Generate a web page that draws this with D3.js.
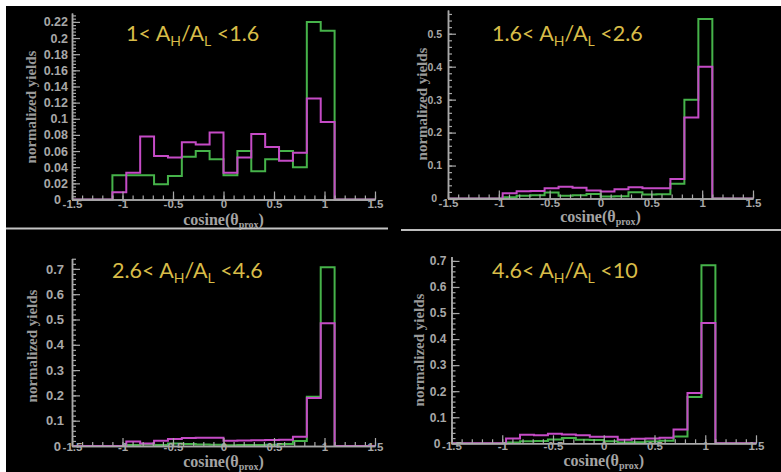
<!DOCTYPE html>
<html>
<head>
<meta charset="utf-8">
<script src="https://cdn.jsdelivr.net/npm/d3@7"></script>
<style>
  html, body { margin: 0; padding: 0; background: #ffffff; }
  svg { display: block; }
</style>
</head>
<body>
<svg id="chart" width="781" height="472"></svg>
<script>
// ---------------- DATA ----------------
const binEdges = [-1.1, -0.9625, -0.825, -0.6875, -0.55, -0.4125, -0.275, -0.1375, 0,
                  0.1375, 0.275, 0.4125, 0.55, 0.6875, 0.825, 0.9625, 1.1];

const titles = [
  ["1< A", "H", "/A", "L", " <1.6"],
  ["1.6< A", "H", "/A", "L", " <2.6"],
  ["2.6< A", "H", "/A", "L", " <4.6"],
  ["4.6< A", "H", "/A", "L", " <10"]
];

const green1   = [0.03, 0.03, 0.03, 0.019, 0.029, 0.053, 0.06, 0.05, 0.03, 0.06, 0.035, 0.05, 0.06, 0.04, 0.22, 0.209];
const magenta1 = [0.009, 0.033, 0.078, 0.054, 0.052, 0.071, 0.068, 0.083, 0.033, 0.052, 0.081, 0.065, 0.048, 0.058, 0.125, 0.096];

const green2   = [0, 0.004, 0.008, 0.010, 0.018, 0.008, 0.010, 0.014, 0.006, 0.007, 0.019, 0.012, 0.013, 0.045, 0.30, 0.545];
const magenta2 = [0, 0.016, 0.022, 0.023, 0.031, 0.036, 0.033, 0.024, 0.021, 0.028, 0.034, 0.031, 0.031, 0.059, 0.246, 0.40];

const green3   = [0, 0.004, 0.006, 0.004, 0.010, 0.008, 0.006, 0.005, 0.003, 0.004, 0.004, 0.005, 0.008, 0.02, 0.195, 0.706];
const magenta3 = [0, 0.018, 0.010, 0.021, 0.028, 0.032, 0.033, 0.033, 0.021, 0.022, 0.023, 0.024, 0.025, 0.037, 0.19, 0.485];

const green4   = [0, 0.003, 0.008, 0.009, 0.015, 0.020, 0.014, 0.013, 0.008, 0.003, 0.004, 0.007, 0.010, 0.026, 0.178, 0.683];
const magenta4 = [0, 0.018, 0.033, 0.031, 0.037, 0.034, 0.031, 0.025, 0.025, 0.014, 0.017, 0.018, 0.021, 0.053, 0.193, 0.462];

const xTickValues = [-1.5, -1, -0.5, 0, 0.5, 1, 1.5];
const yTickSteps = [0.02, 0.1, 0.1, 0.1];

// ---------------- LAYOUT ----------------
const panels = [
  { green: green1, magenta: magenta1, title: titles[0], x0: 72,  x1: 375, yZero: 199.5, yTop: 13,    yMax: 0.231,
    titleX: 126, titleY: 41,  ylabX: 33,  ylabY: 107, xlabY: 225, xPad: 0,  yPad: 4, yFont: 12.5, zeroDx: -7 },
  { green: green2, magenta: magenta2, title: titles[1], x0: 448, x1: 753, yZero: 198.5, yTop: 10,    yMax: 0.572,
    titleX: 492, titleY: 41,  ylabX: 424, ylabY: 104, xlabY: 222, xPad: 0,  yPad: 6, yFont: 10.5, zeroDx: -5 },
  { green: green3, magenta: magenta3, title: titles[2], x0: 72,  x1: 375, yZero: 446,   yTop: 258.5, yMax: 0.741,
    titleX: 112, titleY: 278, ylabX: 34,  ylabY: 346, xlabY: 467, xPad: -3, yPad: 8, yFont: 13,   zeroDx: -3 },
  { green: green4, magenta: magenta4, title: titles[3], x0: 451.5, x1: 756, yZero: 443.3, yTop: 256.5, yMax: 0.717,
    titleX: 492, titleY: 278, ylabX: 421, ylabY: 350, xlabY: 466, xPad: -1, yPad: 5, yFont: 12,   zeroDx: -6 }
];

const GREEN = "#46b34a";
const MAGENTA = "#c54bc6";
const AXIS = "#a9a9a9";
const LABEL = "#a8a8a8";
const GOLD = "#d8bc48";

const svg = d3.select("#chart");

// background: white margin on top/left, black elsewhere
svg.append("rect").attr("x", 0).attr("y", 0).attr("width", 781).attr("height", 472).attr("fill", "#ffffff");
svg.append("rect").attr("x", 6).attr("y", 6).attr("width", 775).attr("height", 466).attr("fill", "#000000");

// separator lines
svg.append("line").attr("x1", 6).attr("x2", 388).attr("y1", 228.5).attr("y2", 228.5)
  .attr("stroke", "#c4c4c4").attr("stroke-width", 2);
svg.append("line").attr("x1", 401).attr("x2", 781).attr("y1", 230).attr("y2", 230)
  .attr("stroke", "#bdbdbd").attr("stroke-width", 2);

const yFmt = d => d === 0 ? "0" : String(+d.toFixed(2));
const xFmt = d => String(d);

panels.forEach((p, idx) => {
  const x = d3.scaleLinear().domain([-1.5, 1.5]).range([p.x0, p.x1]);
  const y = d3.scaleLinear().domain([0, p.yMax]).range([p.yZero, p.yTop]);
  const g = svg.append("g");

  // ---- histograms ----
  const stepLine = d3.line().x(d => x(d[0])).y(d => y(d[1])).curve(d3.curveStepAfter);
  const toPoints = vals => {
    const pts = [[-1.5, 0]];
    vals.forEach((v, i) => pts.push([binEdges[i], v]));
    pts.push([binEdges[binEdges.length - 1], 0]);
    pts.push([1.5, 0]);
    return pts;
  };
  g.append("path").attr("d", stepLine(toPoints(p.green)))
    .attr("fill", "none").attr("stroke", GREEN).attr("stroke-width", 2);
  g.append("path").attr("d", stepLine(toPoints(p.magenta)))
    .attr("fill", "none").attr("stroke", MAGENTA).attr("stroke-width", 2);

  // ---- x axis ----
  const xMinor = d3.range(-15, 16).map(v => v / 10);
  const xMinorAxis = d3.axisBottom(x).tickValues(xMinor).tickSize(-4).tickSizeOuter(0).tickFormat("");
  const xMajorAxis = d3.axisBottom(x).tickValues(xTickValues).tickSize(-8).tickSizeOuter(0).tickPadding(p.xPad).tickFormat(xFmt);
  const gx1 = g.append("g").attr("transform", `translate(0,${p.yZero})`).call(xMinorAxis);
  const gx2 = g.append("g").attr("transform", `translate(0,${p.yZero})`).call(xMajorAxis);
  [gx1, gx2].forEach(a => {
    a.selectAll("path").attr("stroke", AXIS).attr("stroke-width", 1.5);
    a.selectAll("line").attr("stroke", AXIS).attr("stroke-width", 1.2);
  });
  gx2.selectAll("text").attr("fill", LABEL)
    .style("font-family", "'Liberation Sans', Arial, sans-serif")
    .style("font-weight", "bold").style("font-size", "11.5px");

  // ---- y axis ----
  const step = yTickSteps[idx];
  const yMajor = d3.range(0, p.yMax + 1e-9, step).map(v => +v.toFixed(4));
  const yMinor = d3.range(0, p.yMax + 1e-9, step / 5).map(v => +v.toFixed(5));
  const yMinorAxis = d3.axisLeft(y).tickValues(yMinor).tickSize(-4).tickSizeOuter(0).tickFormat("");
  const yMajorAxis = d3.axisLeft(y).tickValues(yMajor).tickSize(-8).tickSizeOuter(0).tickPadding(p.yPad).tickFormat(yFmt);
  const gy1 = g.append("g").attr("transform", `translate(${p.x0},0)`).call(yMinorAxis);
  const gy2 = g.append("g").attr("transform", `translate(${p.x0},0)`).call(yMajorAxis);
  [gy1, gy2].forEach(a => {
    a.selectAll("path").attr("stroke", AXIS).attr("stroke-width", 1.5);
    a.selectAll("line").attr("stroke", AXIS).attr("stroke-width", 1.2);
  });
  gy2.selectAll("text").attr("fill", LABEL)
    .style("font-family", "'Liberation Sans', Arial, sans-serif")
    .style("font-weight", "bold").style("font-size", p.yFont + "px")
    .attr("dx", d => d === 0 ? p.zeroDx : 0);

  // ---- axis titles ----
  g.append("text")
    .attr("transform", `translate(${p.ylabX},${p.ylabY}) rotate(-90)`)
    .attr("text-anchor", "middle").attr("dominant-baseline", "middle")
    .attr("fill", "#9a9a9a")
    .style("font-family", "'Liberation Serif', 'Times New Roman', serif")
    .style("font-size", "15px").style("font-weight", "bold")
    .text("normalized yields");

  const xlab = g.append("text")
    .attr("x", x(0)).attr("y", p.xlabY)
    .attr("text-anchor", "middle").attr("fill", "#a4a4a4")
    .style("font-family", "'Liberation Serif', 'Times New Roman', serif")
    .style("font-size", "16px").style("font-weight", "bold");
  xlab.append("tspan").text("cosine(θ");
  xlab.append("tspan").attr("dy", 3).style("font-size", "10px").text("prox");
  xlab.append("tspan").attr("dy", -3).text(")");

  // ---- panel title ----
  const t = g.append("text").attr("x", p.titleX).attr("y", p.titleY)
    .attr("fill", GOLD)
    .style("font-family", "Lato, 'Open Sans', sans-serif")
    .style("font-size", "21.5px");
  t.append("tspan").text(p.title[0]);
  t.append("tspan").attr("dy", 5).style("font-size", "14px").text(p.title[1]);
  t.append("tspan").attr("dy", -5).text(p.title[2]);
  t.append("tspan").attr("dy", 5).style("font-size", "14px").text(p.title[3]);
  t.append("tspan").attr("dy", -5).text(p.title[4]);
});
</script>
</body>
</html>
